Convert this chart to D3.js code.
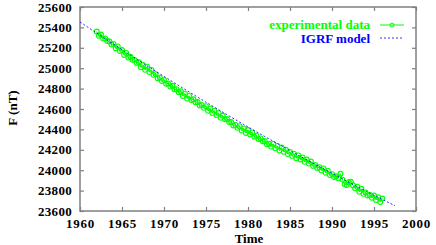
<!DOCTYPE html>
<html><head><meta charset="utf-8">
<script src="https://cdn.jsdelivr.net/npm/d3@7"></script>
<style>body{margin:0;background:#fff}svg{display:block}text{font-family:"Liberation Serif","Times New Roman",serif;font-weight:bold}</style>
</head><body><svg id="c" width="436" height="245"></svg>
<script>
const expStartYear = 1962;
const expStep = 0.25;
const expValues = [
25360,25318,25330,25290, 25292,25266,25262,25232, 25238,25196,25214,25168,
25178,25130,25150,25104, 25112,25082,25082,25052, 25058,25010,25032,24984,
25015,24962,24984,24935, 24942,24902,24908,24874, 24886,24848,24850,24820,
24828,24792,24794,24765, 24774,24728,24750,24702, 24728,24688,24695,24666,
24668,24635,24640,24612, 24628,24582,24605,24560, 24584,24540,24560,24515,
24534,24500,24502,24472, 24472,24438,24444,24415, 24432,24388,24410,24365,
24394,24350,24370,24328, 24338,24305,24312,24284, 24286,24255,24260,24232,
24258,24216,24238,24192, 24222,24180,24202,24158, 24180,24140,24160,24118,
24145,24105,24125,24082, 24105,24065,24085,24042, 24052,24022,24030,23998,
24018,23975,23995,23952, 23962,23934,23940,23922, 23965,23908,23862,23855,
23882,23888,23852,23822, 23838,23788,23818,23768, 23782,23752,23758,23730,
23752,23708,23735,23688, 23722];
const igrfYears = [1960,1962.5,1965,1967.5,1970,1972.5,1975,1977.5,1980,1982.5,1985,1987.5,1990,1992.5,1995,1997.5];
const igrfValues = [25453,25316,25181,25049,24919,24792,24667,24544,24424,24307,24192,24079,23969,23860,23755,23652];
const xTicks = [1960,1965,1970,1975,1980,1985,1990,1995,2000];
const yTicks = [23600,23800,24000,24200,24400,24600,24800,25000,25200,25400,25600];
const legendLabels = ["experimental data","IGRF model"];

const svg = d3.select("#c");
const L=80,R=416,T=7,B=211;
const x = d3.scaleLinear().domain([1960,2000]).range([L,R]);
const y = d3.scaleLinear().domain([23600,25600]).range([B,T]);
const axisCol = "#808080";
const FS = 13;

const g = svg.append("g");
const bx = d3.axisBottom(x).tickValues(xTicks).tickSize(-4).tickFormat(d3.format("d")).tickPadding(8);
const tx = d3.axisTop(x).tickValues(xTicks).tickSize(-4).tickFormat("");
const ly = d3.axisLeft(y).tickValues(yTicks).tickSize(-4).tickFormat(d3.format("d")).tickPadding(8);
const ry = d3.axisRight(y).tickValues(yTicks).tickSize(-4).tickFormat("");
function style(sel){
  sel.select(".domain").remove();
  sel.selectAll(".tick line").attr("stroke",axisCol).attr("stroke-width",1.2);
  sel.selectAll("text").attr("fill","#000").attr("font-size",FS).attr("font-family","Liberation Serif").attr("font-weight","bold");
}
g.append("g").attr("transform",`translate(0,${B})`).call(bx).call(style).selectAll("text").attr("letter-spacing","0.8px");
g.append("g").attr("transform",`translate(0,${T})`).call(tx).call(style);
g.append("g").attr("transform",`translate(${L},0)`).call(ly).call(style).selectAll("text").attr("letter-spacing","0.3px");
g.append("g").attr("transform",`translate(${R},0)`).call(ry).call(style);
svg.append("rect").attr("x",L).attr("y",T).attr("width",R-L).attr("height",B-T)
  .attr("fill","none").attr("stroke",axisCol).attr("stroke-width",1.5);

const expData = expValues.map((v,i)=>({yr:expStartYear+i*expStep,v}));
const line = d3.line().x(d=>x(d.yr)).y(d=>y(d.v));
svg.append("path").datum(expData).attr("d",line).attr("fill","none").attr("stroke","#00ff00").attr("stroke-width",1);
svg.append("g").selectAll("circle").data(expData).join("circle")
  .attr("cx",d=>x(d.yr)).attr("cy",d=>y(d.v)).attr("r",2.4)
  .attr("fill","none").attr("stroke","#00ff00").attr("stroke-width",1.1);

const igrf = igrfYears.map((yr,i)=>({yr,v:igrfValues[i]}));
svg.append("path").datum(igrf).attr("d",line).attr("fill","none")
  .attr("stroke","#0000ff").attr("stroke-width",0.8).attr("stroke-dasharray","2,2");

const lg = svg.append("g");
lg.append("text").attr("x",370).attr("y",29).attr("text-anchor","end").attr("font-size",FS).attr("fill","#00ff00").text(legendLabels[0]);
lg.append("line").attr("x1",380).attr("x2",404).attr("y1",25).attr("y2",25).attr("stroke","#00ff00").attr("stroke-width",1);
lg.append("circle").attr("cx",392).attr("cy",25).attr("r",2).attr("fill","none").attr("stroke","#00ff00");
lg.append("text").attr("x",370).attr("y",42.5).attr("text-anchor","end").attr("font-size",FS).attr("fill","#0000ff").text(legendLabels[1]);
lg.append("line").attr("x1",380).attr("x2",404).attr("y1",38).attr("y2",38).attr("stroke","#0000ff").attr("stroke-width",0.8).attr("stroke-dasharray","2,2");

svg.append("text").attr("x",249).attr("y",242.5).attr("text-anchor","middle").attr("font-size",FS).text("Time");
svg.append("text").attr("transform","translate(17,108) rotate(-90)").attr("text-anchor","middle").attr("font-size",FS).text("F (nT)");
</script></body></html>
